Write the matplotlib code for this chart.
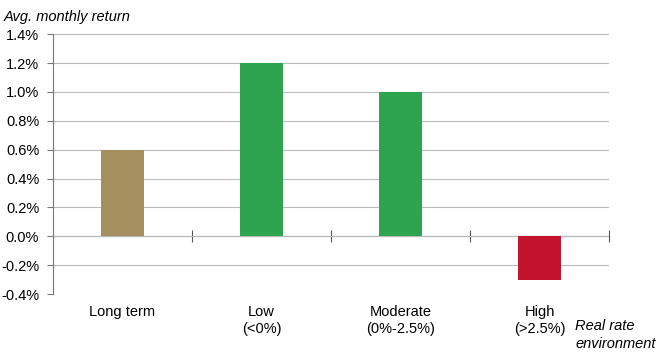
import numpy as np
import matplotlib
matplotlib.use("Agg")
from matplotlib import pyplot as plt
from matplotlib.ticker import FuncFormatter

categories = ["Long term", "Low\n(<0%)", "Moderate\n(0%-2.5%)", "High\n(>2.5%)"]
returns = [0.6, 1.2, 1.0, -0.3]
bar_colors = ["#A68F5E", "#2EA44F", "#2EA44F", "#C3142D"]
y_ticks = [-0.4, -0.2, 0.0, 0.2, 0.4, 0.6, 0.8, 1.0, 1.2, 1.4]

plt.rcParams["font.family"] = ["Liberation Sans", "DejaVu Sans"]
fs = 10.5

fig = plt.figure(figsize=(6.63, 3.63), dpi=100)
ax = fig.add_axes([0.080, 0.190, 0.8386, 0.716])

x = np.arange(len(categories))
ax.bar(x, returns, width=0.31, color=bar_colors, zorder=3)

ymin, ymax = -0.4, 1.4
ax.set_ylim(ymin, ymax)
ax.set_xlim(-0.5, len(categories) - 0.5)
ax.set_yticks(y_ticks)
ax.yaxis.set_major_formatter(FuncFormatter(lambda v, p: f"{v:.1f}%"))
ax.yaxis.grid(True, color="#BBBBBB", linewidth=0.8)
ax.set_axisbelow(True)

for s in ["top", "right", "bottom"]:
    ax.spines[s].set_visible(False)
ax.spines["left"].set_color("#777777")
ax.tick_params(axis="y", direction="out", length=4, color="#777777",
               labelsize=fs, pad=6)

ax.set_xticks(x)
ax.set_xticklabels(categories, linespacing=1.3)
ax.tick_params(axis="x", length=0, labelsize=fs, pad=8)

# zero line with category boundary ticks
sec = ax.secondary_xaxis((0 - ymin) / (ymax - ymin))
sec.set_xticks(x + 0.5)
sec.set_xticklabels([])
sec.spines["bottom"].set_color("#555555")
sec.tick_params(direction="inout", length=8, color="#555555")

fig.text(0.005, 0.953, "Avg. monthly return", fontsize=fs, style="italic",
         va="center", ha="left")
fig.text(0.868, 0.077, "Real rate\nenvironment", fontsize=fs, style="italic",
         va="center", ha="left", linespacing=1.3)

fig.savefig("out.png", dpi=100)
